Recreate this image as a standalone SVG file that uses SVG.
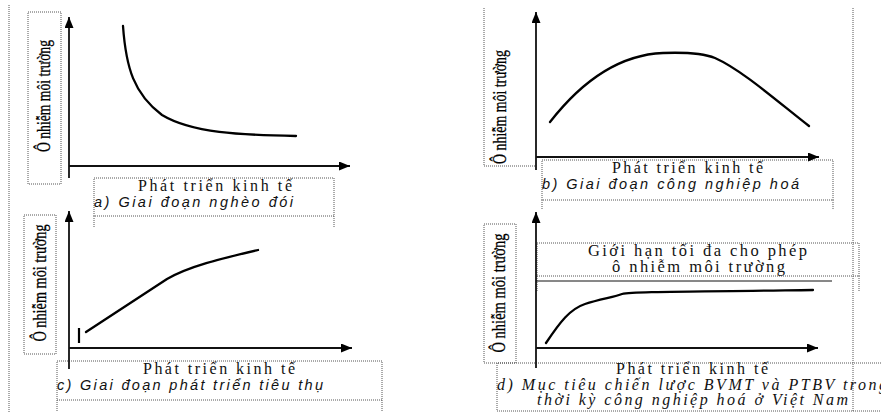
<svg xmlns="http://www.w3.org/2000/svg" width="881" height="412" viewBox="0 0 881 412">
<defs>
<marker id="arr" markerUnits="userSpaceOnUse" markerWidth="11" markerHeight="9" refX="11" refY="4.5" orient="auto">
<path d="M0,0 L11,4.5 L0,9 z" fill="#000"/>
</marker>
<style>
.dot{fill:none;stroke:#555;stroke-width:1;stroke-dasharray:1 1}
.axis{fill:none;stroke:#111;stroke-width:1.8;marker-end:url(#arr)}
.curve{fill:none;stroke:#000;stroke-width:2.3;stroke-linecap:round;stroke-linejoin:round}
.ylab{font-family:"Liberation Serif","Times New Roman",serif;font-size:19px;fill:#000;stroke:#000;stroke-width:0.3;text-anchor:middle}
.xlab{font-family:"Liberation Serif","Times New Roman",serif;font-size:16px;fill:#111}
.cap{font-family:"Liberation Sans",Arial,sans-serif;font-size:14.5px;font-style:italic;fill:#111}
.capd{font-family:"Liberation Serif","Times New Roman",serif;font-size:16px;font-style:italic;fill:#111}
.lim{font-family:"Liberation Serif","Times New Roman",serif;font-size:16.5px;fill:#111}
</style>
</defs>
<rect width="881" height="412" fill="#fff"/>

<g id="frame">
<line class="dot" x1="9" y1="5" x2="9" y2="412"/>
<line class="dot" x1="853" y1="8" x2="853" y2="412"/>
</g>

<g id="panel-a">
<rect class="dot" x="28" y="12" width="33" height="172"/>
<text class="ylab" transform="translate(50,96) rotate(-90)" textLength="112" lengthAdjust="spacingAndGlyphs">Ô nhiễm môi trường</text>
<rect class="dot" x="94" y="178" width="240" height="38"/>
<line class="dot" x1="94" y1="216" x2="94" y2="227"/>
<line class="dot" x1="334" y1="216" x2="334" y2="227"/>
<text class="xlab" x="138" y="191" textLength="154" lengthAdjust="spacing">Phát triển kinh tế</text>
<text class="cap" x="94" y="207" textLength="199" lengthAdjust="spacing">a) Giai đoạn nghèo đói</text>
<path class="curve" d="M123,26 C126,68 134,94 162,115 C192,133 240,135 296,136"/>
</g>

<g id="panel-b">
<polyline class="dot" points="484,8 484,166 536,166"/>
<text class="ylab" transform="translate(506,107) rotate(-90)" textLength="114" lengthAdjust="spacingAndGlyphs">Ô nhiễm môi trường</text>
<rect class="dot" x="542" y="160" width="291" height="40"/>
<line class="dot" x1="542" y1="200" x2="542" y2="210"/>
<line class="dot" x1="833" y1="200" x2="833" y2="210"/>
<text class="xlab" x="612" y="173" textLength="151" lengthAdjust="spacing">Phát triển kinh tế</text>
<text class="cap" x="542" y="189" textLength="257" lengthAdjust="spacing">b) Giai đoạn công nghiệp hoá</text>
<path class="curve" d="M550,122 C575,90 612,55 663,53 C690,52 705,54 715,58 C742,70 778,102 809,126"/>
</g>

<g id="panel-c">
<rect class="dot" x="24" y="215" width="32" height="139"/>
<text class="ylab" transform="translate(46,283) rotate(-90)" textLength="117" lengthAdjust="spacingAndGlyphs">Ô nhiễm môi trường</text>
<rect class="dot" x="57" y="361" width="325" height="39"/>
<line class="dot" x1="57" y1="400" x2="57" y2="412"/>
<line class="dot" x1="382" y1="400" x2="382" y2="412"/>
<text class="xlab" x="143" y="374" textLength="152" lengthAdjust="spacing">Phát triển kinh tế</text>
<text class="cap" x="57" y="390" textLength="266" lengthAdjust="spacing">c) Giai đoạn phát triển tiêu thụ</text>
<line x1="79" y1="328" x2="79" y2="343" stroke="#000" stroke-width="2.2"/>
<path class="curve" d="M86,332 C120,310 150,290 167,279 C190,266 220,259 258,250"/>
</g>

<g id="panel-d">
<rect class="dot" x="484" y="224" width="32" height="139"/>
<text class="ylab" transform="translate(505,293) rotate(-90)" textLength="119" lengthAdjust="spacingAndGlyphs">Ô nhiễm môi trường</text>
<rect class="dot" x="537" y="243" width="322" height="33"/>
<line class="dot" x1="537" y1="276" x2="537" y2="291"/>
<line class="dot" x1="859" y1="276" x2="859" y2="291"/>
<text class="lim" x="588" y="256" textLength="219" lengthAdjust="spacing">Giới hạn tối đa cho phép</text>
<text class="lim" x="612" y="272" textLength="173" lengthAdjust="spacing">ô nhiễm môi trường</text>
<line x1="536" y1="281" x2="832" y2="281" stroke="#111" stroke-width="1"/>
<polyline class="dot" points="881,363 497,363 497,411 881,411"/>
<text class="xlab" x="616" y="374" textLength="152" lengthAdjust="spacing">Phát triển kinh tế</text>
<text class="capd" x="497" y="390" textLength="390" lengthAdjust="spacing">d) Mục tiêu chiến lược BVMT và PTBV trong</text>
<text class="capd" x="537" y="405" textLength="311" lengthAdjust="spacing">thời kỳ công nghiệp hoá ở Việt Nam</text>
<path class="curve" d="M546,343 C560,322 570,309 585,304 C600,299 615,297 622,294 C630,292 640,292 813,290"/>
</g>

<g id="connectors">
<line class="axis" x1="69" y1="178" x2="69" y2="17"/>
<line class="axis" x1="69" y1="166" x2="350" y2="166"/>
<line class="axis" x1="536" y1="170" x2="536" y2="12"/>
<line class="axis" x1="536" y1="157" x2="819" y2="157"/>
<line class="axis" x1="69" y1="369" x2="69" y2="211"/>
<line class="axis" x1="69" y1="348" x2="352" y2="348"/>
<line class="axis" x1="536" y1="368" x2="536" y2="212"/>
<line class="axis" x1="536" y1="348" x2="818" y2="348"/>
</g>
</svg>
